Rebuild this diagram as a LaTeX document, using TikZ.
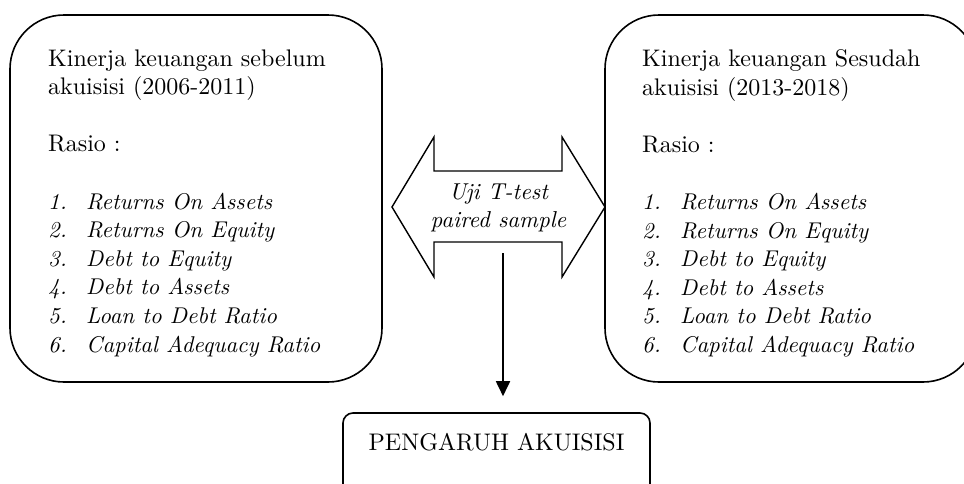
\documentclass[tikz,border=0pt]{standalone}
\usepackage{fontspec}
\setmainfont{lmroman10-regular.otf}[ItalicFont=lmroman10-italic.otf]
\usetikzlibrary{arrows.meta}
\newcommand\ratioitem[2]{\makebox[38pt][l]{\fontsize{22.8}{28.6}\selectfont\itshape #1}{\fontsize{22.8}{28.6}\selectfont\itshape #2}}
\tikzset{
  bigbox/.style={draw, line width=1.6pt, rounded corners=54pt, minimum width=372pt, minimum height=367pt, inner sep=0pt},
  smallbox/.style={draw, line width=1.6pt, rounded corners=10pt, minimum width=307pt, minimum height=110pt, inner sep=0pt},
  txt/.style={anchor=north west, align=left, inner sep=0pt, font=\fontsize{24}{28.6}\selectfont},
  lbl/.style={align=center, inner sep=0pt, font=\fontsize{23}{28}\selectfont\itshape},
  dblarrow/.style={draw, line width=1.4pt, line join=miter},
  conn/.style={line width=1.8pt, -{Triangle[length=15pt,width=14pt]}}
}
\begin{document}
\begin{tikzpicture}[x=1pt,y=-1pt]
\useasboundingbox (0,0) rectangle (964,483);
\clip (0,0) rectangle (964,483);
% boxes
\node[bigbox] (before) at (196,198.5) {};
\node[bigbox] (after) at (791,198.5) {};
\node[smallbox] (result) at (496.5,468) {};
% texts
\node[txt] (beforetxt) at (48,49.3) {Kinerja keuangan sebelum\\
akuisisi (2006-2011)\\[28.6pt]
Rasio :\\[28.6pt]
\ratioitem{1.}{Returns On Assets}\\
\ratioitem{2.}{Returns On Equity}\\
\ratioitem{3.}{Debt to Equity}\\
\ratioitem{4.}{Debt to Assets}\\
\ratioitem{5.}{Loan to Debt Ratio}\\
\ratioitem{6.}{Capital Adequacy Ratio}};
\node[txt] (aftertxt) at (642,49.3) {Kinerja keuangan Sesudah\\
akuisisi (2013-2018)\\[28.6pt]
Rasio :\\[28.6pt]
\ratioitem{1.}{Returns On Assets}\\
\ratioitem{2.}{Returns On Equity}\\
\ratioitem{3.}{Debt to Equity}\\
\ratioitem{4.}{Debt to Assets}\\
\ratioitem{5.}{Loan to Debt Ratio}\\
\ratioitem{6.}{Capital Adequacy Ratio}};
% double arrow
\draw[dblarrow] (392,207) -- (434,137) -- (434,171) -- (562,171) -- (562,137) -- (605,207)
  -- (562,277) -- (562,242) -- (434,242) -- (434,277) -- cycle;
\node[lbl, anchor=north] (uji) at (498.5,184) {Uji T-test\\paired sample};
% result text
\node[anchor=base, inner sep=0pt, font=\fontsize{24}{28}\selectfont] (resulttxt) at (496.5,450) {PENGARUH AKUISISI};
% connector
\coordinate (vstart) at (503,253);
\draw[conn, shorten >=16pt] (vstart) -- (vstart |- result.north);
\end{tikzpicture}
\end{document}
